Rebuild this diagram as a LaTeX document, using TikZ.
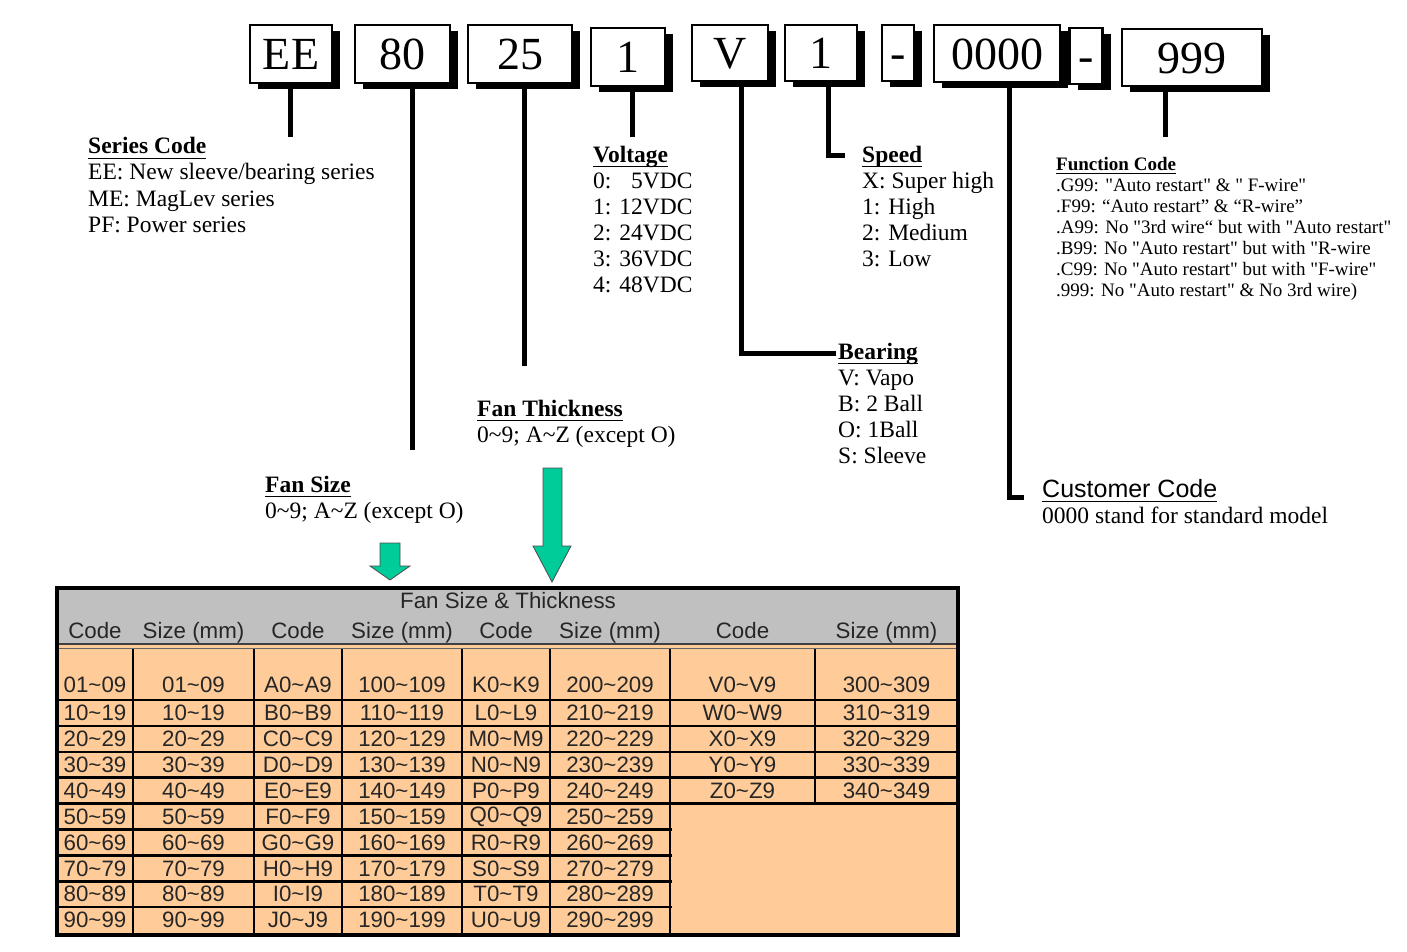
\documentclass[tikz,border=0pt]{standalone}
\usepackage{fontspec}
\setmainfont{Liberation Serif}
\setsansfont{Liberation Sans}
\newfontfamily\qfont{Liberation Serif}[Ligatures=TeXOff]
\usetikzlibrary{shadows}
\definecolor{tblorange}{RGB}{255,204,153}
\definecolor{tblgray}{RGB}{192,192,192}
\definecolor{arrgreen}{RGB}{0,204,153}
\newcommand{\tld}{\textasciitilde}
\newcommand{\myul}[2][5pt]{\setbox0\hbox{#2}\rlap{\rule[-#1]{\wd0}{1.4pt}}\box0}
\begin{document}
\begin{tikzpicture}[x=1pt,y=-1pt,
  codebox/.style={draw=black, line width=2.2pt, fill=white, inner sep=0pt,
    text height=32pt, text depth=0pt,
    font=\fontsize{46}{46}\selectfont,
    drop shadow={shadow xshift=8pt, shadow yshift=-6pt, fill=black, opacity=1}},
  stem/.style={line width=5pt},
  lbl/.style={anchor=base west, inner sep=0pt, align=left, font=\fontsize{23.5}{26}\selectfont},
  flbl/.style={anchor=base west, inner sep=0pt, align=left, font=\qfont\fontsize{19}{21}\selectfont},
  cell/.style={font=\sffamily\fontsize{22.3}{23}\selectfont, inner sep=0pt, text=black!85},
  gridline/.style={line width=2.5pt},
  garrow/.style={fill=arrgreen, draw=black!70, line width=0.8pt, line join=miter}
]
\useasboundingbox (0,0) rectangle (1407,952);

% ---- code boxes
\node[codebox, minimum width=82pt, minimum height=58pt] (ee) at (291,54) {EE};
\node[codebox, minimum width=95pt, minimum height=58pt] (size) at (402.5,54) {80};
\node[codebox, minimum width=104pt, minimum height=58pt] (thick) at (520,54) {25};
\node[codebox, minimum width=74pt, minimum height=58pt] (volt) at (628,57) {1};
\node[codebox, minimum width=76pt, minimum height=56pt] (bear) at (730,53) {V};
\node[codebox, minimum width=72pt, minimum height=56pt] (speed) at (821,53) {1};
\node[codebox, minimum width=32pt, minimum height=56pt] (dashA) at (898,53) {-};
\node[codebox, minimum width=126pt, minimum height=57pt] (cust) at (997,53.5) {0000};
\node[codebox, minimum width=33pt, minimum height=56pt] (dashB) at (1086,56) {-};
\node[codebox, minimum width=140pt, minimum height=57pt] (func) at (1192,57.5) {999};

% ---- labels (anchor = baseline of the last line)
\node[lbl] (seriesL) at (88,232) {\myul{\textbf{Series Code}}\\EE: New sleeve/bearing series\\ME: MagLev series\\PF: Power series};
\node[lbl] (voltL) at (593,292) {\myul{\textbf{Voltage}}\\0: \phantom{1}5VDC\\1: 12VDC\\2: 24VDC\\3: 36VDC\\4: 48VDC};
\node[lbl] (speedL) at (862,266) {\myul{\textbf{Speed}}\\X: Super high\\1: High\\2: Medium\\3: Low};
\node[flbl] (funcL) at (1056,296) {\myul[4pt]{\textbf{Function Code}}\\.G99: "Auto restart" \& " F-wire"\\.F99: “Auto restart” \& “R-wire”\\.A99: No "3rd wire“ but with "Auto restart"\\.B99: No "Auto restart" but with "R-wire\\.C99: No "Auto restart" but with "F-wire"\\.999: No "Auto restart" \& No 3rd wire)};
\node[lbl] (bearL) at (838,463) {\myul{\textbf{Bearing}}\\V: Vapo\\B: 2 Ball\\O: 1Ball\\S: Sleeve};
\node[lbl] (thickL) at (477,442) {\myul{\textbf{Fan Thickness}}\\0\tld9; A\tld Z (except O)};
\node[lbl] (sizeL) at (265,518) {\myul{\textbf{Fan Size}}\\0\tld9; A\tld Z (except O)};
\node[lbl] (custL) at (1042,523) {{\sffamily\fontsize{25}{26}\selectfont\myul[5pt]{Customer Code}}\\0000 stand for standard model};

% ---- stem end points
\coordinate (eeEnd) at (290,137);
\coordinate (sizeEnd) at (412,450);
\coordinate (thickEnd) at (524,366);
\coordinate (voltEnd) at (632,137);
\coordinate (bearX) at (741,0);
\coordinate (bearEnd) at (836,353);
\coordinate (speedX) at (828,0);
\coordinate (speedEnd) at (845,156);
\coordinate (custX) at (1009,0);
\coordinate (custEnd) at (1024,497);
\coordinate (funcEnd) at (1165,137);

\draw[stem] (ee.south -| eeEnd) -- (eeEnd);
\draw[stem] (size.south -| sizeEnd) -- (sizeEnd);
\draw[stem] (thick.south -| thickEnd) -- (thickEnd);
\draw[stem] (volt.south -| voltEnd) -- (voltEnd);
\draw[stem, line join=miter] (bear.south -| bearX) |- (bearEnd);
\draw[stem, line join=miter] (speed.south -| speedX) |- (speedEnd);
\draw[stem, line join=miter] (cust.south -| custX) |- (custEnd);
\draw[stem] (func.south -| funcEnd) -- (funcEnd);

% ---- green arrows
\draw[garrow] (380,543) -- (400,543) -- (400,566) -- (410,566) -- (390,580) -- (370,566) -- (380,566) -- cycle;
\draw[garrow] (543,468) -- (562,468) -- (562,546) -- (571,546) -- (552,582) -- (533,546) -- (543,546) -- cycle;

% ---- table
\fill[tblorange] (57,645) rectangle (958,935);
\fill[tblgray] (57,590) rectangle (958,643);
\draw[line width=1.5pt, black!75] (57,644) -- (958,644);
\draw[line width=1pt, black!60] (57,648.5) -- (958,648.5);
\foreach \k in {0,...,4} \draw[gridline] (57,700+25.9*\k) -- (958,700+25.9*\k);
\foreach \k in {5,...,8} \draw[gridline] (57,700+25.9*\k) -- (672,700+25.9*\k);
\foreach \xx in {133,254,342,462,550,670} \draw[gridline] (\xx,649) -- (\xx,934);
\draw[gridline] (815,649) -- (815,805);
\draw[line width=4.5pt] (57,588) rectangle (958,935);

\node[cell, anchor=base] (ttitle) at (508,608) {Fan Size \& Thickness};
\foreach \xx/\t [count=\i] in {95/Code,193.5/Size (mm),298/Code,402/Size (mm),506/Code,610/Size (mm),742.5/Code,886.5/Size (mm)}
  \node[cell, anchor=base] (h\i) at (\xx,638) {\t};

\foreach \a/\c/\d/\e/\f [count=\k] in {
  01\tld 09/A0\tld A9/100\tld 109/K0\tld K9/200\tld 209,
  10\tld 19/B0\tld B9/110\tld 119/L0\tld L9/210\tld 219,
  20\tld 29/C0\tld C9/120\tld 129/M0\tld M9/220\tld 229,
  30\tld 39/D0\tld D9/130\tld 139/N0\tld N9/230\tld 239,
  40\tld 49/E0\tld E9/140\tld 149/P0\tld P9/240\tld 249,
  50\tld 59/F0\tld F9/150\tld 159/Q0\tld Q9/250\tld 259,
  60\tld 69/G0\tld G9/160\tld 169/R0\tld R9/260\tld 269,
  70\tld 79/H0\tld H9/170\tld 179/S0\tld S9/270\tld 279,
  80\tld 89/I0\tld I9/180\tld 189/T0\tld T9/280\tld 289,
  90\tld 99/J0\tld J9/190\tld 199/U0\tld U9/290\tld 299}
{
  \pgfmathsetmacro{\yy}{\k==1 ? 685 : 700+25.9*(\k-2)+12.95}
  \node[cell] (r\k c1) at (95,\yy) {\a};
  \node[cell] (r\k c2) at (193.5,\yy) {\a};
  \node[cell] (r\k c3) at (298,\yy) {\c};
  \node[cell] (r\k c4) at (402,\yy) {\d};
  \node[cell] (r\k c5) at (506,\yy) {\e};
  \node[cell] (r\k c6) at (610,\yy) {\f};
}
\foreach \g/\h [count=\k] in {V0\tld V9/300\tld 309, W0\tld W9/310\tld 319, X0\tld X9/320\tld 329, Y0\tld Y9/330\tld 339, Z0\tld Z9/340\tld 349}
{
  \pgfmathsetmacro{\yy}{\k==1 ? 685 : 700+25.9*(\k-2)+12.95}
  \node[cell] (r\k c7) at (742.5,\yy) {\g};
  \node[cell] (r\k c8) at (886.5,\yy) {\h};
}
\end{tikzpicture}
\end{document}
